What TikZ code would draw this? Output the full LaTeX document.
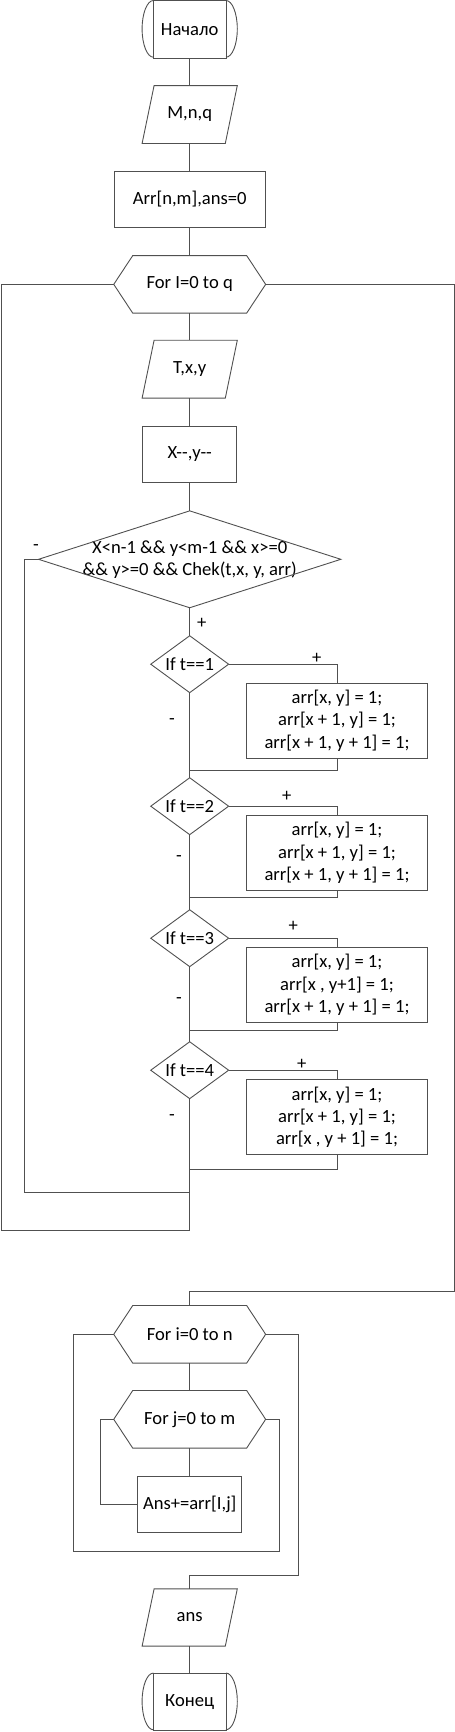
\documentclass[tikz,border=0pt]{standalone}
\usepackage{fontspec}
\setmainfont{Carlito}
\definecolor{lc}{HTML}{505050}
\newcommand\hexof[1]{\draw[shp] (#1.west) -- ([xshift=19pt]#1.north west) -- ([xshift=-19pt]#1.north east) -- (#1.east) -- ([xshift=-19pt]#1.south east) -- ([xshift=19pt]#1.south west) -- cycle;}
\newcommand\parof[1]{\draw[shp] ([xshift=12pt]#1.north west) -- (#1.north east) -- ([xshift=-12pt]#1.south east) -- (#1.south west) -- cycle;}
\newcommand\diamof[1]{\draw[shp] (#1.north) -- (#1.east) -- (#1.south) -- (#1.west) -- cycle;}
\newcommand\termof[1]{\draw[shp] (#1.north west) rectangle (#1.south east);
  \draw[shp] (#1.north west) arc[start angle=90,end angle=270,x radius=11.3pt,y radius=28.35pt];
  \draw[shp] (#1.north east) arc[start angle=90,end angle=-90,x radius=11.3pt,y radius=28.35pt];}
\begin{document}
\begin{tikzpicture}[x=1pt,y=-1pt,line width=0.9pt,
  every node/.style={font=\fontsize{18.6}{22.3}\selectfont, inner sep=0pt, text=black},
  box/.style={rectangle, draw=lc, align=center},
  ghost/.style={rectangle, draw=none, align=center},
  shp/.style={draw=lc},
  conn/.style={draw=lc},
  lbl/.style={font=\fontsize{18.6}{22}\selectfont}]
\useasboundingbox (0,0) rectangle (455,1732);
% nodes
\node[ghost, minimum width=71.7pt, minimum height=56.7pt] (start) at (189.7,29.3) {Начало};
\node[ghost, minimum width=94.3pt, minimum height=57pt] (in1) at (189.7,114.5) {M,n,q};
\node[box, minimum width=151pt, minimum height=56.7pt] (arr) at (189.7,199.35) {Arr[n,m],ans=0};
\node[ghost, minimum width=151pt, minimum height=56.7pt] (forI) at (189.7,284.35) {For I=0 to q};
\node[ghost, minimum width=94.3pt, minimum height=57pt] (in2) at (189.7,369.2) {T,x,y};
\node[box, minimum width=94.3pt, minimum height=56.7pt] (dec) at (189.7,454.35) {X-{}-,y-{}-};
\node[ghost, minimum width=301.4pt, minimum height=96pt, font=\fontsize{18.6}{21.7}\selectfont] (cond) at (189.7,559.3) {X<n-1 \&\& y<m-1 \&\& x>=0\\\&\& y>=0 \&\& Chek(t,x, y, arr)};
\node[ghost, minimum width=77pt, minimum height=56pt] (if1) at (189.7,664.2) {If t==1};
\node[ghost, minimum width=77pt, minimum height=56pt] (if2) at (189.7,806.2) {If t==2};
\node[ghost, minimum width=77pt, minimum height=56pt] (if3) at (189.7,938.2) {If t==3};
\node[ghost, minimum width=77pt, minimum height=56pt] (if4) at (189.7,1070.2) {If t==4};
\node[box, minimum width=181.4pt, minimum height=75.4pt] (b1) at (337,720.65) {arr[x, y] = 1;\\arr[x + 1, y] = 1;\\arr[x + 1, y + 1] = 1;};
\node[box, minimum width=181.4pt, minimum height=75.4pt] (b2) at (337,853) {arr[x, y] = 1;\\arr[x + 1, y] = 1;\\arr[x + 1, y + 1] = 1;};
\node[box, minimum width=181.4pt, minimum height=75.4pt] (b3) at (337,985) {arr[x, y] = 1;\\arr[x , y+1] = 1;\\arr[x + 1, y + 1] = 1;};
\node[box, minimum width=181.4pt, minimum height=75.4pt] (b4) at (337,1117.2) {arr[x, y] = 1;\\arr[x + 1, y] = 1;\\arr[x , y + 1] = 1;};
\node[ghost, minimum width=151pt, minimum height=56.7pt] (hexI) at (189.7,1334.3) {For i=0 to n};
\node[ghost, minimum width=151pt, minimum height=56.7pt] (hexJ) at (189.7,1419.3) {For j=0 to m};
\node[box, minimum width=104pt, minimum height=56.3pt] (ans) at (189.7,1504.2) {Ans+=arr[I,j]};
\node[ghost, minimum width=94.3pt, minimum height=56.4pt] (out) at (189.7,1617.5) {ans};
\node[ghost, minimum width=71.7pt, minimum height=56.7pt] (end) at (189.7,1701.85) {Конец};
% shapes
\termof{start}
\parof{in1}
\hexof{forI}
\parof{in2}
\diamof{cond}
\diamof{if1}
\diamof{if2}
\diamof{if3}
\diamof{if4}
\hexof{hexI}
\hexof{hexJ}
\parof{out}
\termof{end}
% labels
\node[lbl] (lc0) at (36,548) {-};
\node[lbl] (lp0) at (201.7,623.3) {+};
\node[lbl] (lp1) at (316.7,658.3) {+};
\node[lbl] (lm1) at (172,721.7) {-};
\node[lbl] (lp2) at (286.7,796) {+};
\node[lbl] (lm2) at (179,859) {-};
\node[lbl] (lp3) at (293.3,926) {+};
\node[lbl] (lm3) at (179,1001) {-};
\node[lbl] (lp4) at (301.7,1064.3) {+};
\node[lbl] (lm4) at (172,1117.7) {-};
% coordinates
\coordinate (j1) at (189.7,770);
\coordinate (j2) at (189.7,897.7);
\coordinate (j3) at (189.7,1030);
\coordinate (j4) at (189.7,1169.3);
\coordinate (lb1) at (189.7,1192.7);
\coordinate (lb2) at (189.7,1230.7);
\coordinate (cl) at (24.3,1192.7);
\coordinate (ol) at (1.7,1230.7);
\coordinate (orr) at (454.3,1291.7);
\coordinate (jl) at (100,1504.2);
\coordinate (ir) at (279.3,1551.3);
\coordinate (il) at (73.3,1551.3);
\coordinate (ox) at (298,1575);
% connectors
\draw[conn] (start.south) -- (in1.north);
\draw[conn] (in1.south) -- (arr.north);
\draw[conn] (arr.south) -- (forI.north);
\draw[conn] (forI.south) -- (in2.north);
\draw[conn] (in2.south) -- (dec.north);
\draw[conn] (dec.south) -- (cond.north);
\draw[conn] (cond.south) -- (if1.north);
\draw[conn] (if1.east) -| (b1.north);
\draw[conn] (b1.south) |- (j1);
\draw[conn] (if1.south) -- (if2.north);
\draw[conn] (if2.east) -| (b2.north);
\draw[conn] (b2.south) |- (j2);
\draw[conn] (if2.south) -- (if3.north);
\draw[conn] (if3.east) -| (b3.north);
\draw[conn] (b3.south) |- (j3);
\draw[conn] (if3.south) -- (if4.north);
\draw[conn] (if4.east) -| (b4.north);
\draw[conn] (b4.south) |- (j4);
\draw[conn] (if4.south) -- (lb2);
\draw[conn] (cond.west) -| (cl) -- (lb1);
\draw[conn] (forI.west) -| (ol) -- (lb2);
\draw[conn] (forI.east) -| (orr) -| (hexI.north);
\draw[conn] (hexI.south) -- (hexJ.north);
\draw[conn] (hexJ.south) -- (ans.north);
\draw[conn] (hexJ.west) -| (jl) -- (ans.west);
\draw[conn] (hexJ.east) -| (ir) -- (il) |- (hexI.west);
\draw[conn] (hexI.east) -| (ox) -| (out.north);
\draw[conn] (out.south) -- (end.north);
\end{tikzpicture}
\end{document}
